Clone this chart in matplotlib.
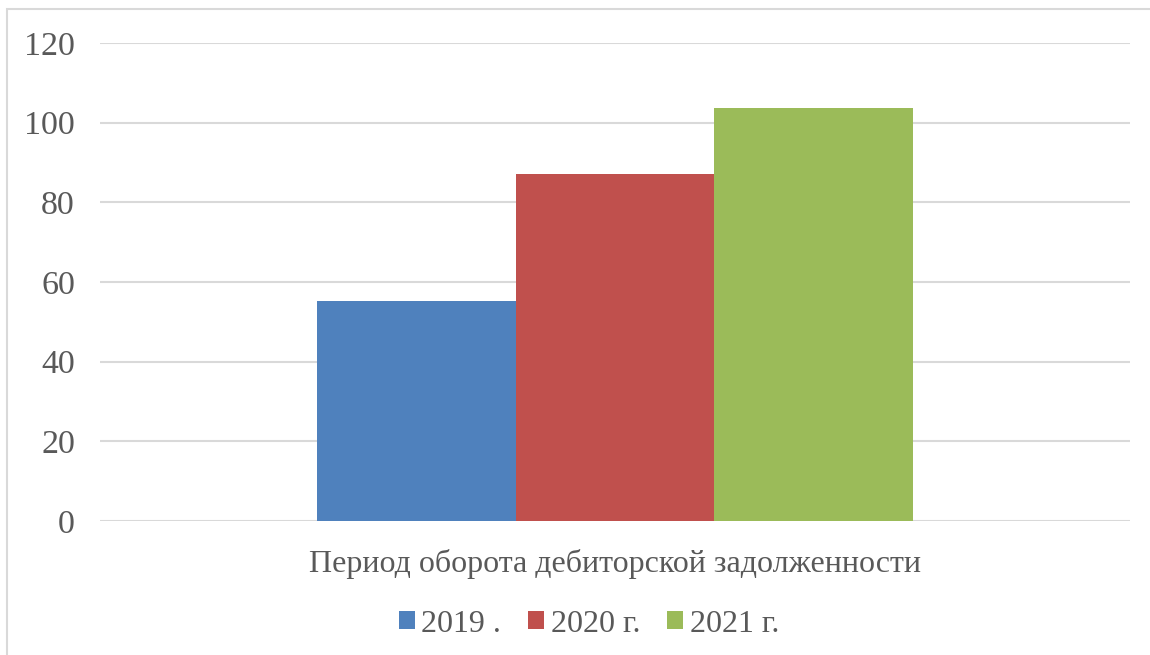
import matplotlib
matplotlib.use("Agg")
import matplotlib.pyplot as plt
from matplotlib.patches import Rectangle

category = "Период оборота дебиторской задолженности"
series_names = ["2019 .", "2020 г.", "2021 г."]
values = [55.2, 87.1, 103.7]
colors = ["#4f81bd", "#c0504d", "#9bbb59"]
yticks = [0, 20, 40, 60, 80, 100, 120]

plt.rcParams['font.family'] = ['Liberation Serif', 'DejaVu Serif']
txt = "#595959"

fig = plt.figure(figsize=(11.5, 6.55), dpi=100)
ax = fig.add_axes([100/1150, 1-521/655, 1030/1150, 478/655])

w = 0.1926
for i, (n, v, c) in enumerate(zip(series_names, values, colors)):
    ax.bar((i - 1) * w, v, width=w, color=c, label=n, zorder=3)

ax.set_xlim(-0.5, 0.5)
ax.set_ylim(0, 120)
ax.set_yticks(yticks)
ax.set_yticklabels([str(t) for t in yticks], fontsize=24.5, color=txt)
ax.tick_params(axis='y', length=0, pad=18)
ax.set_xticks([0])
ax.set_xticklabels([category], fontsize=23, color=txt)
ax.tick_params(axis='x', length=0, pad=20)
ax.grid(axis='y', color="#d9d9d9", linewidth=1.5, zorder=0)
for s in ax.spines.values():
    s.set_visible(False)

fig.patches.append(Rectangle((7/1150, -0.1), 1.2, 1 - 9/655 + 0.1, transform=fig.transFigure,
                             fill=False, edgecolor="#d9d9d9", linewidth=1.5))

leg = fig.legend(loc='center', bbox_to_anchor=(589/1150, 1-624/655), ncol=3, frameon=False,
                 fontsize=23, handlelength=0.5, handleheight=0.5, handletextpad=0.2,
                 columnspacing=0.85)
for t in leg.get_texts():
    t.set_color(txt)

fig.savefig("out.png", dpi=100)
